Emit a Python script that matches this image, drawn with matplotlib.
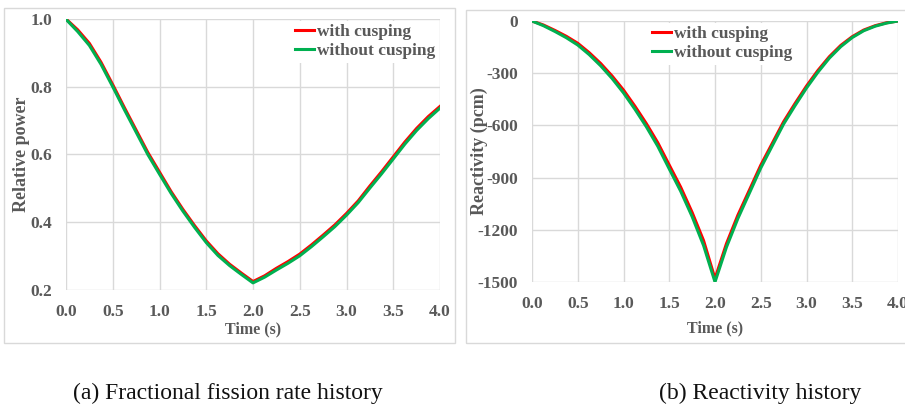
import matplotlib.pyplot as plt
from matplotlib.patches import Rectangle

# time grid (s)
time = [0.0, 0.125, 0.25, 0.375, 0.5, 0.625, 0.75, 0.875, 1.0, 1.125, 1.25, 1.375,
        1.5, 1.625, 1.75, 1.875, 2.0, 2.125, 2.25, 2.375, 2.5, 2.625, 2.75, 2.875,
        3.0, 3.125, 3.25, 3.375, 3.5, 3.625, 3.75, 3.875, 4.0]

# relative power
power_cusp = [1.000, 0.968, 0.928, 0.872, 0.806, 0.738, 0.672, 0.606, 0.548, 0.490, 0.438,
              0.390, 0.345, 0.307, 0.276, 0.250, 0.225, 0.242, 0.264, 0.284, 0.306, 0.333,
              0.362, 0.392, 0.426, 0.463, 0.507, 0.549, 0.593, 0.637, 0.677, 0.712, 0.742]
power_nocusp = [0.999, 0.963, 0.922, 0.866, 0.800, 0.732, 0.666, 0.600, 0.542, 0.485, 0.433,
                0.385, 0.340, 0.302, 0.272, 0.246, 0.221, 0.238, 0.259, 0.279, 0.301, 0.328,
                0.357, 0.387, 0.421, 0.458, 0.501, 0.543, 0.587, 0.631, 0.671, 0.706, 0.737]

# reactivity (pcm)
react_cusp = [0, -23, -54, -88, -128, -182, -244, -316, -397, -490, -590, -700, -828,
              -955, -1100, -1262, -1481, -1280, -1116, -973, -829, -704, -579, -474,
              -374, -284, -205, -140, -90, -52, -27, -10, 0]
react_nocusp = [0, -27, -60, -96, -138, -193, -257, -330, -413, -507, -608, -720, -850,
                -978, -1124, -1290, -1500, -1300, -1135, -990, -845, -718, -592, -486,
                -385, -294, -213, -147, -95, -56, -30, -12, 0]

xticks = [0.0, 0.5, 1.0, 1.5, 2.0, 2.5, 3.0, 3.5, 4.0]
power_ticks = [0.2, 0.4, 0.6, 0.8, 1.0]
react_ticks = [-1500, -1200, -900, -600, -300, 0]

RED = '#ff0000'
GREEN = '#00b050'
GRID = '#d9d9d9'
TXT = '#595959'
plt.rcParams['font.family'] = ['Liberation Serif', 'DejaVu Serif']
plt.rcParams['axes.unicode_minus'] = False

fig = plt.figure(figsize=(9.05, 4.05), dpi=100)

# chart borders
fig.patches.append(Rectangle((4 / 905, 1 - 343 / 405), 451 / 905, 335 / 405,
                             transform=fig.transFigure, fill=False, ec=GRID, lw=1))
fig.patches.append(Rectangle((466 / 905, 1 - 343 / 405), 445 / 905, 333 / 405,
                             transform=fig.transFigure, fill=False, ec=GRID, lw=1))

ax1 = fig.add_axes([66 / 905, 1 - 290 / 405, 374 / 905, 271 / 405])
ax2 = fig.add_axes([532 / 905, 1 - 282 / 405, 366 / 905, 261 / 405])

legend_kw = dict(frameon=True, facecolor='white', edgecolor='none', framealpha=1,
                 fancybox=False, handlelength=1.1, handletextpad=0.15, labelspacing=0.15,
                 borderpad=0.2, borderaxespad=0.1, prop={'weight': 'bold', 'size': 12.5},
                 labelcolor=TXT)


def style(ax, yticks, ylabels, ylabel, ylab_x, xlab_y):
    ax.set_xlim(0, 4)
    ax.set_ylim(yticks[0], yticks[-1])
    ax.set_xticks(xticks)
    ax.set_xticklabels([f'{v:.1f}' for v in xticks], fontweight='bold')
    ax.set_yticks(yticks)
    ax.set_yticklabels(ylabels, fontweight='bold')
    ax.grid(True, color=GRID, lw=1)
    ax.set_axisbelow(True)
    for s in ax.spines.values():
        s.set_visible(False)
    ax.tick_params(length=0, pad=10, labelsize=12.5, labelcolor=TXT)
    ax.set_ylabel(ylabel, fontsize=13, fontweight='bold', color=TXT)
    ax.yaxis.set_label_coords(ylab_x, 0.5)
    ax.set_xlabel('Time (s)', fontsize=11.5, fontweight='bold', color=TXT)
    ax.xaxis.set_label_coords(0.5, xlab_y)


ax1.plot(time, power_cusp, color=RED, lw=2.2, label='with cusping')
ax1.plot(time, power_nocusp, color=GREEN, lw=2.2, label='without cusping')
style(ax1, power_ticks, [f'{v:.1f}' for v in power_ticks], 'Relative power', -0.095, -0.114)
ax1.legend(loc='upper right', bbox_to_anchor=(1.0, 1.0), **legend_kw)

ax2.plot(time, react_cusp, color=RED, lw=2.2, label='with cusping')
ax2.plot(time, react_nocusp, color=GREEN, lw=2.2, label='without cusping')
style(ax2, react_ticks, [str(v) for v in react_ticks], 'Reactivity (pcm)', -0.120, -0.149)
ax2.legend(loc='upper center', bbox_to_anchor=(0.52, 1.0), **legend_kw)

fig.text(228 / 905, 1 - 393 / 405, '(a) Fractional fission rate history',
         ha='center', va='center', fontsize=17, color='#111111')
fig.text(760 / 905, 1 - 393 / 405, '(b) Reactivity history',
         ha='center', va='center', fontsize=17, color='#111111')

fig.savefig('out.png', dpi=100)
